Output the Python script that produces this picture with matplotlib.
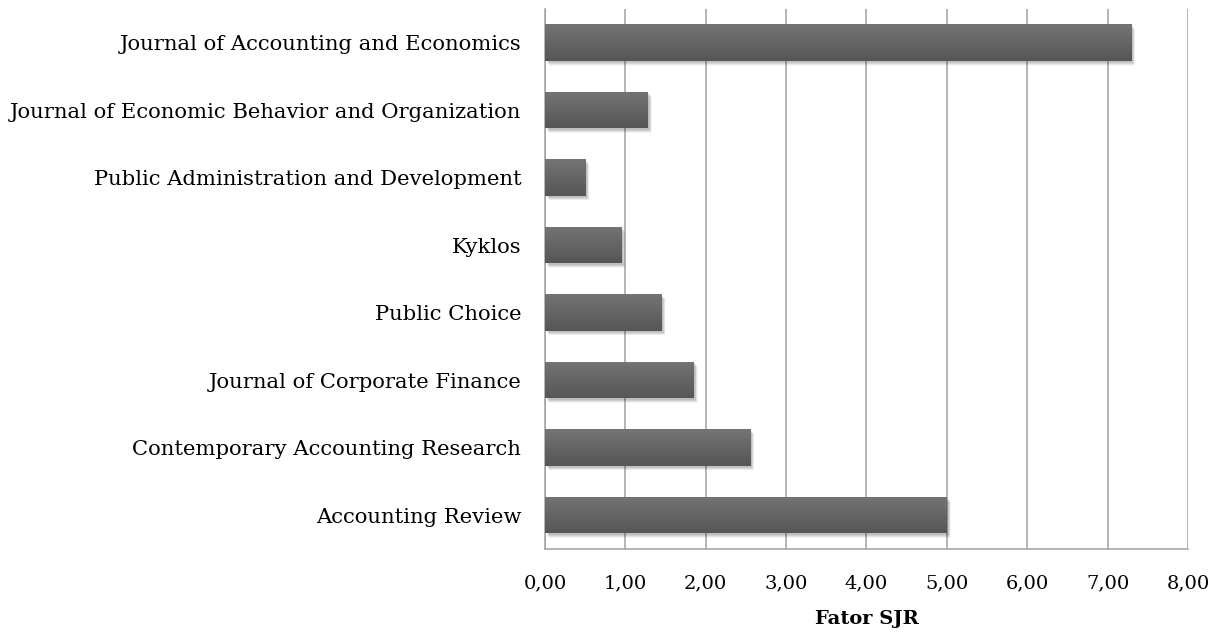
import numpy as np
import matplotlib.pyplot as plt
from matplotlib.colors import LinearSegmentedColormap
from matplotlib.ticker import FuncFormatter, MultipleLocator

journals = ["Journal of Accounting and Economics",
            "Journal of Economic Behavior and Organization",
            "Public Administration and Development",
            "Kyklos",
            "Public Choice",
            "Journal of Corporate Finance",
            "Contemporary Accounting Research",
            "Accounting Review"]
sjr = [7.29, 1.28, 0.50, 0.95, 1.45, 1.85, 2.55, 5.00]

plt.rcParams['font.family'] = ['DejaVu Serif']

fig = plt.figure(figsize=[12.19, 6.39], dpi=100)
ax = fig.add_axes([0.447, 0.141, 0.5276, 0.845])

ypos = np.arange(len(journals))[::-1]
h = 0.54

# sombra
for k in range(7):
    ax.barh(ypos - 0.02 - k * 0.008, sjr, height=h, left=0.02 + k * 0.005,
            color='black', alpha=0.04, linewidth=0, zorder=2)

bars = ax.barh(ypos, sjr, height=h, color='#636363', linewidth=0, zorder=3)

# degradê vertical nas barras
cmap = LinearSegmentedColormap.from_list('g', ['#565656', '#747474'])
grad = np.linspace(0, 1, 64).reshape(-1, 1)
for b in bars:
    x0, y0 = b.get_x(), b.get_y()
    im = ax.imshow(grad, cmap=cmap, aspect='auto',
                   extent=[x0, x0 + b.get_width(), y0, y0 + b.get_height()],
                   origin='lower', zorder=4)
    im.set_clip_path(b)

ax.set_xlim(0, 8)
ax.set_ylim(-0.5, len(journals) - 0.5)
ax.xaxis.set_major_locator(MultipleLocator(1))
ax.xaxis.set_major_formatter(FuncFormatter(lambda v, p: "{:.2f}".format(v).replace('.', ',')))
ax.set_yticks(ypos)
ax.set_yticklabels(journals)
ax.tick_params(axis='both', length=0, colors='black')
ax.tick_params(axis='x', pad=18, labelsize=14)
ax.tick_params(axis='y', pad=17, labelsize=15.2)

ax.grid(axis='x', color='#a0a0a0', linewidth=1.1, zorder=0)
ax.set_axisbelow(True)
for s in ['top', 'right']:
    ax.spines[s].set_visible(False)
for s in ['left', 'bottom']:
    ax.spines[s].set_color('#a0a0a0')
    ax.spines[s].set_linewidth(1.1)

ax.set_xlabel('Fator SJR', fontsize=14, fontweight='bold', labelpad=13)

fig.savefig('out.png', dpi=100)
